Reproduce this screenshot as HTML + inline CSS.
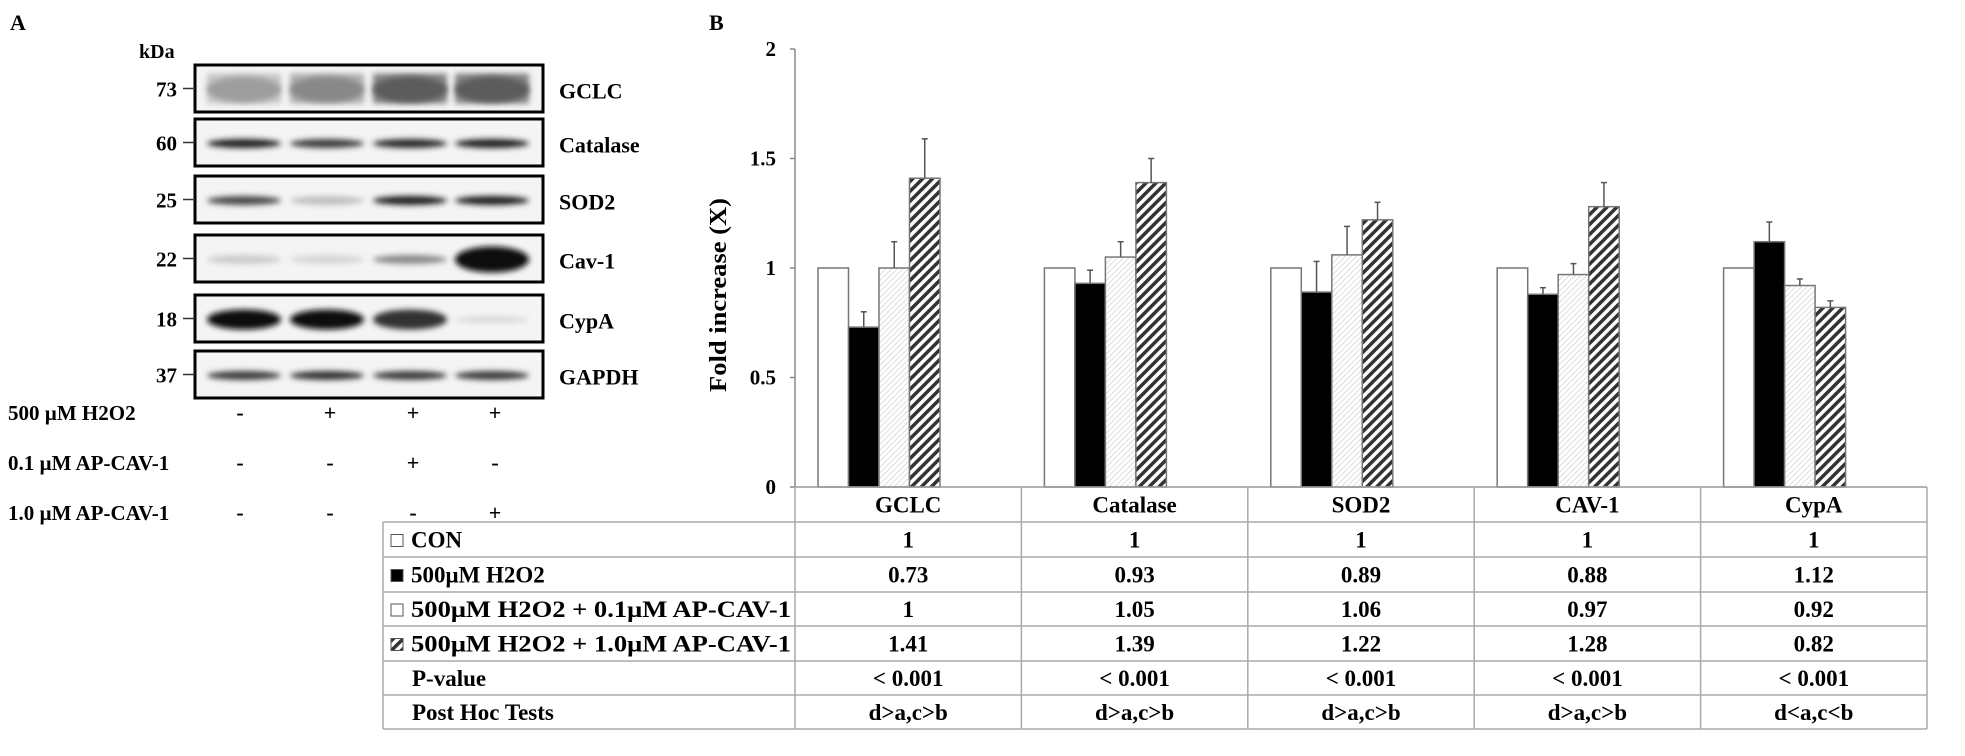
<!DOCTYPE html>
<html><head><meta charset="utf-8"><style>
html,body{margin:0;padding:0;background:#fff;}
svg{display:block;font-family:"Liberation Serif",serif;font-weight:bold;}
</style></head><body>
<svg id="fig" width="1965" height="756" viewBox="0 0 1965 756">
<defs>
<filter id="bl" x="-20%" y="-100%" width="140%" height="300%"><feGaussianBlur stdDeviation="3"/></filter>
<pattern id="hatch" width="7" height="7" patternUnits="userSpaceOnUse" patternTransform="rotate(45)">
<rect width="7" height="7" fill="#fff"/><rect width="3.5" height="7" fill="#333"/></pattern>
<pattern id="dots" width="4" height="4" patternUnits="userSpaceOnUse" patternTransform="rotate(45)">
<rect width="4" height="4" fill="#fff"/><rect width="1" height="4" fill="#ddd"/></pattern>
</defs>
<text x="10" y="30" font-size="22">A</text>
<text x="709" y="30" font-size="22">B</text>
<g id="blot"></g>
<g id="chart"></g>
<g id="table"></g>
</svg>
<script>
const NS="http://www.w3.org/2000/svg";
const categories=["GCLC","Catalase","SOD2","CAV-1","CypA"];
const seriesNames=["CON","500μM H2O2","500μM H2O2 + 0.1μM AP-CAV-1","500μM H2O2 + 1.0μM AP-CAV-1"];
const conValues=[1,1,1,1,1];
const h2o2Values=[0.73,0.93,0.89,0.88,1.12];
const lowApValues=[1,1.05,1.06,0.97,0.92];
const highApValues=[1.41,1.39,1.22,1.28,0.82];
const h2o2Err=[0.07,0.06,0.14,0.03,0.09];
const lowApErr=[0.12,0.07,0.13,0.05,0.03];
const highApErr=[0.18,0.11,0.08,0.11,0.03];
const pValues=["< 0.001","< 0.001","< 0.001","< 0.001","< 0.001"];
const postHoc=["d>a,c>b","d>a,c>b","d>a,c>b","d>a,c>b","d<a,c<b"];
const yTicks=[0,0.5,1,1.5,2];
const blotProteins=["GCLC","Catalase","SOD2","Cav-1","CypA","GAPDH"];
const blotKDa=["73","60","25","22","18","37"];
const blotIntensity=[[0.35,0.45,0.65,0.65],[0.95,0.8,0.9,0.95],[0.75,0.2,0.95,0.95],[0.15,0.1,0.45,1],[1,1,0.85,0.1],[0.8,0.85,0.8,0.8]];
const treatLabels=["500 µM H2O2","0.1 µM AP-CAV-1","1.0 µM AP-CAV-1"];
const treatSigns=[["-","+","+","+"],["-","-","+","-"],["-","-","-","+"]];

function mk(tag,attrs,parent,text){const e=document.createElementNS(NS,tag);for(const k in attrs)e.setAttribute(k,attrs[k]);if(text!==undefined)e.textContent=text;parent.appendChild(e);return e;}

// ---- Blot ----
const blot=document.getElementById('blot');
const boxY=[65,119,176,235,295,351];
const boxH=47;
const laneX=[207,290,373,455];const laneW=74;
const kdaL=mk('text',{x:139,y:58,'font-size':20},blot,'kDa');

blotProteins.forEach((p,i)=>{
  const y=boxY[i];const cy=y+boxH/2;
  const g=mk('g',{},blot);
  
  
  mk('rect',{x:195,y:y,width:348,height:boxH,fill:'#f4f4f4'},g);
  blotIntensity[i].forEach((v,j)=>{
    const gray=Math.round(235-220*v);
    const h=i===4?(v>0.5?20:6):(i===0?26:(i===3&&j===3?26:9));
    if(i===0){const gg=Math.min(240,gray+40);mk('rect',{x:laneX[j],y:cy-15,width:laneW,height:30,fill:`rgb(${gg},${gg},${gg})`,filter:'url(#bl)'},g);}
    const b=mk('ellipse',{cx:laneX[j]+laneW/2,cy:cy+1,rx:laneW/2,ry:h/2,fill:`rgb(${gray},${gray},${gray})`,filter:'url(#bl)'},g);
    
  });
  mk('rect',{x:195,y:y,width:348,height:boxH,fill:'none',stroke:'#000','stroke-width':3},g);
  mk('line',{x1:183,x2:195,y1:cy,y2:cy,stroke:'#333','stroke-width':1.5},g);
  const kd=mk('text',{x:177,y:cy+8,'font-size':21,'text-anchor':'end'},g,blotKDa[i]);
  
  const lb=mk('text',{x:559,y:cy+10,'font-size':22},g,p);
  
});
const treatY=[420,470,520];const signX=[240,330,413,495];
treatLabels.forEach((t,i)=>{
  const l=mk('text',{x:8,y:treatY[i],'font-size':21},blot,t);
  
  treatSigns[i].forEach((s,j)=>{
    const e=mk('text',{x:signX[j],y:treatY[i],'font-size':22,'text-anchor':'middle'},blot,s);
    
  });
});

// ---- Chart ----
const chart=document.getElementById('chart');
const y0=487,y2=49,axX=795,colW=226.4;
const yS=v=>y0-(y0-y2)*v/2;
const xCol=i=>axX+i*colW;
const yAx=mk('line',{x1:axX,x2:axX,y1:y2,y2:y0,stroke:'#888','stroke-width':1.5},chart);

yTicks.forEach(t=>{
  mk('line',{x1:axX-5,x2:axX,y1:yS(t),y2:yS(t),stroke:'#888','stroke-width':1.5},chart);
  const tl=mk('text',{x:776,y:yS(t)+7,'font-size':21,'text-anchor':'end'},chart,String(t));
  
});
const yt=mk('text',{x:0,y:0,'font-size':24,'text-anchor':'middle',textLength:194,lengthAdjust:'spacingAndGlyphs',transform:'translate(726,295) rotate(-90)'},chart,'Fold increase (X)');

const series=[conValues,h2o2Values,lowApValues,highApValues];
const errs=[null,h2o2Err,lowApErr,highApErr];
const fills=['#fff','#000','url(#dots)','url(#hatch)'];
const barW=30.5;
categories.forEach((c,i)=>{
  series.forEach((s,k)=>{
    const x=xCol(i)+23+k*barW;const v=s[i];
    const r=mk('rect',{x:x,y:yS(v),width:barW,height:y0-yS(v),fill:fills[k],stroke:'#777','stroke-width':1.5},chart);
    
    
    if(errs[k]){
      const top=yS(v+errs[k][i]);const cx=x+barW/2;
      mk('line',{x1:cx,x2:cx,y1:top,y2:yS(v),stroke:'#555','stroke-width':1.5},chart);
      const cap=mk('line',{x1:cx-3,x2:cx+3,y1:top,y2:top,stroke:'#555','stroke-width':1.5},chart);
      
    }
  });
});

// ---- Table ----
const table=document.getElementById('table');
const rowY=[487,522,557,592,626,661,695,729];
const tL=383,tR=1927;
mk('line',{x1:axX,x2:tR,y1:rowY[0],y2:rowY[0],stroke:'#999','stroke-width':1.5},table);
for(let r=1;r<rowY.length;r++)mk('line',{x1:tL,x2:tR,y1:rowY[r],y2:rowY[r],stroke:'#aaa','stroke-width':1.5},table);
mk('line',{x1:tL,x2:tL,y1:rowY[1],y2:rowY[7],stroke:'#aaa','stroke-width':1.5},table);
for(let i=0;i<=5;i++)mk('line',{x1:xCol(i),x2:xCol(i),y1:rowY[0],y2:rowY[7],stroke:'#aaa','stroke-width':1.5},table);
const rowLabels=seriesNames.concat(["P-value","Post Hoc Tests"]);
rowLabels.forEach((l,r)=>{
  const cy=(rowY[r+1]+rowY[r+2])/2;
  if(r<4){
    const sw=mk('rect',{x:391,y:cy-5,width:12,height:12,fill:fills[r]==='url(#dots)'?'#fff':fills[r],stroke:'#555','stroke-width':1},table);
    
  }
  const attrs={x:r<4?411:412,y:cy+8,'font-size':23};
  if(r>=2&&r<4){attrs.textLength=380;attrs.lengthAdjust='spacingAndGlyphs';}
  const t=mk('text',attrs,table,l);
  
});
const rowsData=[conValues,h2o2Values,lowApValues,highApValues,pValues,postHoc];
categories.forEach((c,i)=>{
  const cx=xCol(i)+colW/2;
  const h=mk('text',{x:cx,y:(rowY[0]+rowY[1])/2+8,'font-size':23,'text-anchor':'middle'},table,c);
  
  rowsData.forEach((arr,r)=>{
    const cy=(rowY[r+1]+rowY[r+2])/2;
    const t=mk('text',{x:cx,y:cy+8,'font-size':23,'text-anchor':'middle'},table,String(arr[i]));
    
  });
});
</script>
</body></html>
